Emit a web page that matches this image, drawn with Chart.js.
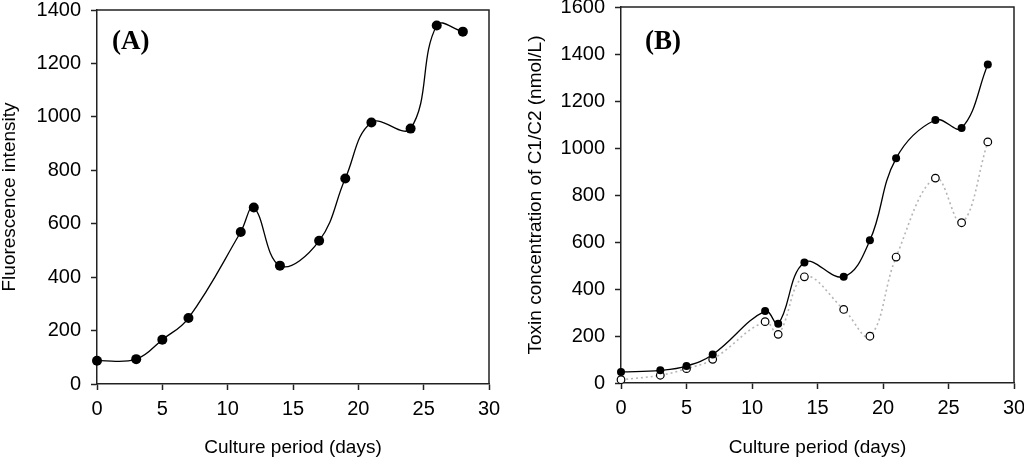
<!DOCTYPE html>
<html>
<head>
<meta charset="utf-8">
<script src="https://cdn.jsdelivr.net/npm/chart.js@4"></script>
<style>
html,body{margin:0;padding:0;background:#fff;overflow:hidden;width:1024px;height:459px;}
#wrap{position:relative;width:1024px;height:459px;overflow:hidden;}
canvas{position:absolute;top:0;}
#cA{left:0;}
#cB{left:512px;}
</style>
</head>
<body>
<div id="wrap">
<canvas id="cA" width="512" height="459"></canvas>
<canvas id="cB" width="540" height="459"></canvas>
</div>
<script>
// ---- Data ----
const daysA = [0, 3, 5, 7, 11, 12, 14, 17, 19, 21, 24, 26, 28];
const fluorescence = [87, 93, 166, 247, 569, 661, 443, 536, 769, 979, 956, 1342, 1319];

const daysB = [0, 3, 5, 7, 11, 12, 14, 17, 19, 21, 24, 26, 28];
const toxinFilled = [47, 54, 72, 121, 306, 252, 513, 452, 607, 956, 1119, 1085, 1355];
const toxinOpen = [14, 33, 61, 101, 261, 207, 452, 313, 199, 536, 872, 682, 1026];

const xTicks = [0, 5, 10, 15, 20, 25, 30];
const yTicksA = [0, 200, 400, 600, 800, 1000, 1200, 1400];
const yTicksB = [0, 200, 400, 600, 800, 1000, 1200, 1400, 1600];

const titleX = 'Culture period (days)';
const titleYA = 'Fluorescence intensity';
const titleYB = 'Toxin concentration of C1/C2 (nmol/L)';
const panelA = '(A)';
const panelB = '(B)';

const pts = (xs, ys) => xs.map((x, i) => ({x: x, y: ys[i]}));

const FONT = '"Liberation Sans", Arial, sans-serif';
const AX = '#222';

function framePlugin(label, dx) {
  return {
    id: 'frame' + label,
    afterDraw(chart) {
      const {ctx, chartArea: a} = chart;
      ctx.save();
      ctx.strokeStyle = AX;
      ctx.lineWidth = 1.5;
      ctx.beginPath();
      ctx.moveTo(a.left, a.top);
      ctx.lineTo(a.right, a.top);
      ctx.lineTo(a.right, a.bottom);
      ctx.stroke();
      ctx.fillStyle = '#000';
      ctx.font = 'bold 27px "Liberation Serif", "Times New Roman", serif';
      ctx.textBaseline = 'middle';
      ctx.textAlign = 'left';
      ctx.fillText(label, a.left + dx, 42);
      ctx.restore();
    }
  };
}

function makeScales(yMax, yTicks, yTitle, yWidth, xHeight, yTitlePad) {
  return {
    x: {
      type: 'linear', min: 0, max: 30,
      afterBuildTicks: s => { s.ticks = xTicks.map(v => ({value: v})); },
      afterFit: s => { s.height = xHeight; s.paddingLeft = 0; s.paddingRight = 0; },
      grid: {drawOnChartArea: false, drawTicks: true, tickLength: 6, tickColor: AX, tickWidth: 1.5},
      border: {display: true, color: AX, width: 1.5},
      ticks: {color: '#000', font: {family: FONT, size: 20}, padding: 7, maxRotation: 0,
              callback: v => String(v)},
      title: {display: true, text: titleX, color: '#000', font: {family: FONT, size: 19}, padding: {top: 0, bottom: 0}}
    },
    y: {
      type: 'linear', min: 0, max: yMax,
      afterBuildTicks: s => { s.ticks = yTicks.map(v => ({value: v})); },
      afterFit: s => { s.width = yWidth; s.paddingTop = 0; s.paddingBottom = 0; },
      grid: {drawOnChartArea: false, drawTicks: true, tickLength: 6, tickColor: AX, tickWidth: 1.5},
      border: {display: true, color: AX, width: 1.5},
      ticks: {color: '#000', font: {family: FONT, size: 20}, padding: 10,
              callback: v => String(v)},
      title: {display: true, text: yTitle, color: '#000', font: {family: FONT, size: 19}, padding: {top: yTitlePad, bottom: 0}}
    }
  };
}

const common = {
  responsive: false,
  animation: false,
  devicePixelRatio: 1,
  plugins: {legend: {display: false}, tooltip: {enabled: false}},
};

new Chart(document.getElementById('cA'), {
  type: 'scatter',
  data: {
    datasets: [{
      data: pts(daysA, fluorescence),
      showLine: true,
      borderColor: '#000',
      borderWidth: 1.3,
      tension: 0.4,
      pointRadius: 5,
      pointBackgroundColor: '#000',
      pointBorderColor: '#000',
      pointBorderWidth: 0,
      clip: false
    }]
  },
  options: Object.assign({}, common, {
    layout: {padding: {left: 0, top: 10, right: 23, bottom: 0}},
    scales: makeScales(1400, yTicksA, titleYA, 97, 75, -2)
  }),
  plugins: [framePlugin(panelA, 15)]
});

new Chart(document.getElementById('cB'), {
  type: 'scatter',
  data: {
    datasets: [{
      data: pts(daysB, toxinFilled),
      showLine: true,
      borderColor: '#000',
      borderWidth: 1.3,
      tension: 0.4,
      pointRadius: 4,
      pointBackgroundColor: '#000',
      pointBorderColor: '#000',
      pointBorderWidth: 0,
      clip: false,
      order: 1
    }, {
      data: pts(daysB, toxinOpen),
      showLine: true,
      borderColor: '#b5b5b5',
      borderWidth: 1.6,
      borderDash: [2, 3],
      tension: 0.4,
      pointRadius: 3.8,
      pointBackgroundColor: '#fff',
      pointBorderColor: '#000',
      pointBorderWidth: 1.2,
      clip: false,
      order: 2
    }]
  },
  options: Object.assign({}, common, {
    layout: {padding: {left: 0, top: 7, right: 38, bottom: 0}},
    scales: makeScales(1600, yTicksB, titleYB, 109, 76, 12)
  }),
  plugins: [framePlugin(panelB, 24)]
});
</script>
</body>
</html>
